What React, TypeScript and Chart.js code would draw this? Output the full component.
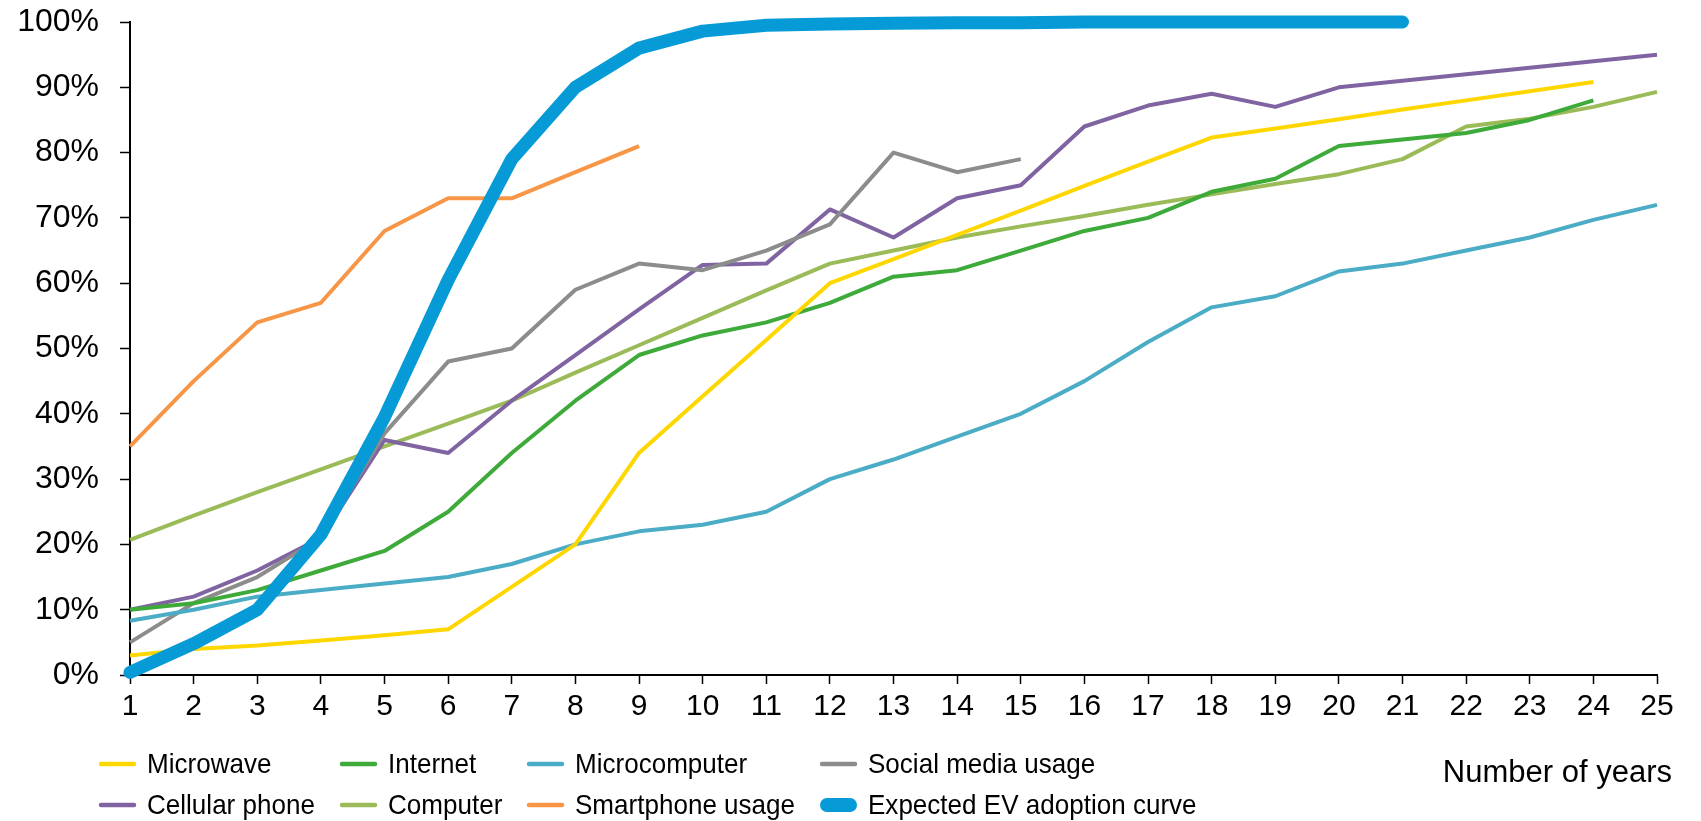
import React, { useEffect, useRef } from "react";
import { Chart, registerables } from "chart.js";

Chart.register(...registerables);

const years = ["1","2","3","4","5","6","7","8","9","10","11","12","13","14","15","16","17","18","19","20","21","22","23","24","25"];

const microwave = [3, 4, 4.5, 5.3, 6.1, 7, 13.5, 20, 34, 42.7, 51.3, 60, 63.7, 67.4, 71.1, 74.9, 78.6, 82.3, 83.7, 85.1, 86.6, 88, 89.4, 90.8, null];
const internet = [10, 11, 13, 16, 19, 25, 34, 42, 49, 52, 54, 57, 61, 62, 65, 68, 70, 74, 76, 81, 82, 83, 85, 88, null];
const microcomputer = [8.3, 10, 12, 13, 14, 15, 17, 20, 22, 23, 25, 30, 33, 36.5, 40, 45, 51, 56.3, 58, 61.8, 63, 65, 67, 69.7, 72];
const socialMedia = [5, 11, 15, 21, 37, 48, 50, 59, 63, 62, 65, 69, 80, 77, 79, null, null, null, null, null, null, null, null, null, null];
const cellularPhone = [10, 12, 16, 21, 36, 34, 42, 49, 56, 62.8, 63, 71.3, 67, 73, 75, 84, 87.2, 89, 87, 90, 91, 92, 93, 94, 95];
const computer = [20.7, 24.4, 28, 31.5, 35, 38.5, 42, 46.3, 50.5, 54.7, 58.9, 63, 65, 67, 68.7, 70.3, 72, 73.6, 75.2, 76.7, 79, 84, 85.2, 87, 89.3];
const smartphone = [35, 45, 54, 57, 68, 73, 73, 77, 81, null, null, null, null, null, null, null, null, null, null, null, null, null, null, null, null];
const evAdoption = [0.4, 4.8, 10, 21.5, 39.5, 60.5, 79, 90, 96, 98.6, 99.5, 99.7, 99.8, 99.9, 99.9, 100, 100, 100, 100, 100, 100, null, null, null, null];

const seriesNames = ["Microwave", "Internet", "Microcomputer", "Social media usage", "Cellular phone", "Computer", "Smartphone usage", "Expected EV adoption curve"];
const seriesColors = ["#FFD700", "#3DAA3A", "#4BACC6", "#8C8C8C", "#8064A2", "#9BBB59", "#F79646", "#069BD6"];
const seriesData = [microwave, internet, microcomputer, socialMedia, cellularPhone, computer, smartphone, evAdoption];

const xTitle = "Number of years";
const FONT = "'Liberation Sans', Arial, Helvetica, sans-serif";

const legendPlugin = {
  id: "customLegend",
  afterDraw(chart: any) {
    const ctx = chart.ctx as CanvasRenderingContext2D;
    const textX = [147, 388, 575, 868];
    const rowY = [764, 805];
    const sx = 0.93;
    ctx.save();
    ctx.textBaseline = "middle";
    ctx.textAlign = "left";
    chart.data.datasets.forEach((ds: any, i: number) => {
      const tx = textX[i % 4];
      const y = rowY[Math.floor(i / 4)];
      ctx.strokeStyle = ds.borderColor;
      ctx.lineCap = "round";
      if (ds.borderWidth > 6) {
        ctx.lineWidth = 14;
        ctx.beginPath();
        ctx.moveTo(tx - 41, y);
        ctx.lineTo(tx - 18, y);
        ctx.stroke();
      } else {
        ctx.lineWidth = 4.5;
        ctx.beginPath();
        ctx.moveTo(tx - 46, y);
        ctx.lineTo(tx - 13, y);
        ctx.stroke();
      }
      ctx.fillStyle = "#000";
      ctx.save();
      ctx.translate(tx, y + 1);
      ctx.scale(sx, 1);
      ctx.font = `28px ${FONT}`;
      ctx.fillText(ds.label, 0, 0);
      ctx.restore();
    });
    ctx.font = `31px ${FONT}`;
    ctx.textAlign = "right";
    ctx.fillStyle = "#000";
    ctx.fillText(xTitle, 1672, 773);
    ctx.restore();
  },
};

export default function App() {
  const ref = useRef<HTMLCanvasElement | null>(null);
  useEffect(() => {
    if (!ref.current) return;
    const datasets = seriesNames.map((name, i) => {
      const isEV = i === seriesNames.length - 1;
      return {
        label: name,
        data: seriesData[i],
        borderColor: seriesColors[i],
        backgroundColor: seriesColors[i],
        borderWidth: isEV ? 13 : 4,
        borderCapStyle: isEV ? "round" : "butt",
        borderJoinStyle: "round",
        pointRadius: 0,
        tension: 0,
        spanGaps: false,
        fill: false,
        clip: false,
        order: isEV ? 0 : 1,
      };
    });
    const chart = new Chart(ref.current, {
      type: "line",
      data: { labels: years, datasets: datasets as any },
      options: {
        animation: false,
        responsive: true,
        maintainAspectRatio: false,
        layout: { padding: { top: 0, right: 44, left: 0, bottom: 0 } },
        plugins: { legend: { display: false }, tooltip: { enabled: false } },
        scales: {
          x: {
            type: "category",
            offset: false,
            grid: { display: true, drawOnChartArea: false, drawTicks: true, tickLength: 9, tickColor: "#000", tickWidth: 1.5 },
            border: { display: true, color: "#000", width: 2 },
            ticks: { color: "#000", font: { family: FONT, size: 30 }, padding: 5, maxRotation: 0, autoSkip: false },
            afterFit: (scale: any) => { scale.height = 146; },
          },
          y: {
            min: 0,
            max: 100,
            grid: { display: true, drawOnChartArea: false, drawTicks: true, tickLength: 10, tickColor: "#000", tickWidth: 1.5 },
            border: { display: true, color: "#000", width: 2 },
            ticks: { stepSize: 10, color: "#000", font: { family: FONT, size: 32 }, padding: 21, callback: (v: any) => `${v}%` },
            afterFit: (scale: any) => {
              scale.width = 130;
              scale.paddingTop = 22;
              scale.paddingBottom = 0;
            },
          },
        },
      },
      plugins: [legendPlugin],
    });
    return () => chart.destroy();
  }, []);
  return (
    <div style={{ position: "fixed", left: 0, top: 0, width: 1701, height: 821, background: "#fff" }}>
      <canvas ref={ref} />
    </div>
  );
}
